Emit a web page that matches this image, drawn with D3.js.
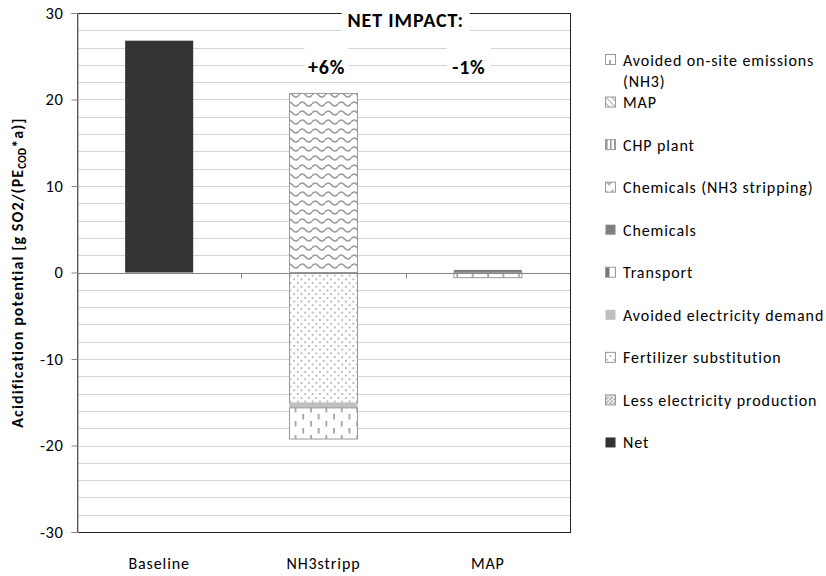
<!DOCTYPE html>
<html>
<head>
<meta charset="utf-8">
<script src="https://cdn.jsdelivr.net/npm/d3@7"></script>
<style>
  body { margin: 0; background: #fff; }
  text { font-family: Carlito, "Open Sans", sans-serif; fill: #000; }
</style>
</head>
<body>
<div id="chart"></div>
<script>
const width = 826;
const height = 576;
const margin = { top: 13, right: 256, bottom: 44, left: 77 };

// data
const categories = ["Baseline", "NH3stripp", "MAP"];
// series in stacking order (legend shows them reversed)
const seriesNames = [
    "Net",
    "Less electricity production",
    "Fertilizer substitution",
    "Avoided electricity demand",
    "Transport",
    "Chemicals",
    "Chemicals (NH3 stripping)",
    "CHP plant",
    "MAP",
    "Avoided on-site emissions (NH3)"
];
const netValues          = [26.8, 0, 0];
const lessElecValues     = [0, 0, 0];
const fertilizerValues   = [0, -15.1, 0];
const avoidedElecValues  = [0, -0.55, 0];
const transportValues    = [0, 0, 0];
const chemicalsValues    = [0, 0, 0.3];
const chemNH3Values      = [0, 20.7, 0];
const chpValues          = [0, 0, 0];
const mapValues          = [0, 0, 0];
const avoidedOnsiteValues = [0, -3.6, -0.6];
const yTicks = [-30, -20, -10, 0, 10, 20, 30];
const netImpactLabels = ["", "+6%", "-1%"];

const seriesValues = [netValues, lessElecValues, fertilizerValues, avoidedElecValues,
    transportValues, chemicalsValues, chemNH3Values, chpValues, mapValues, avoidedOnsiteValues];

const rows = categories.map((c, i) => {
    const r = { category: c };
    seriesNames.forEach((s, j) => r[s] = seriesValues[j][i]);
    return r;
});

const svg = d3.select("#chart")
    .append("svg")
    .attr("width", width)
    .attr("height", height);

svg.append("rect").attr("width", width).attr("height", height).attr("fill", "#fff");

// patterns
const defs = svg.append("defs");
const pat = (id, w, h) => defs.append("pattern")
    .attr("id", id)
    .attr("patternUnits", "userSpaceOnUse")
    .attr("width", w)
    .attr("height", h);

let p = pat("p-wave", 13, 9);
p.append("rect").attr("width", 13).attr("height", 9).attr("fill", "#fff");
p.append("path").attr("d", "M0,5 Q3.25,1 6.5,5 T13,5").attr("fill", "none")
    .attr("stroke", "#9a9a9a").attr("stroke-width", 1.5);

p = pat("p-dots", 7.4, 7.4);
p.append("rect").attr("width", 7.4).attr("height", 7.4).attr("fill", "#fff");
p.append("circle").attr("cx", 1.8).attr("cy", 1.8).attr("r", 0.9).attr("fill", "#a0a0a0");
p.append("circle").attr("cx", 5.5).attr("cy", 5.5).attr("r", 0.9).attr("fill", "#a0a0a0");

p = pat("p-dash", 15.4, 14);
p.append("rect").attr("width", 15.4).attr("height", 14).attr("fill", "#fff");
p.append("line").attr("x1", 3).attr("x2", 3).attr("y1", 1).attr("y2", 6.5)
    .attr("stroke", "#999").attr("stroke-width", 1.6);
p.append("line").attr("x1", 10.7).attr("x2", 10.7).attr("y1", 8).attr("y2", 13.5)
    .attr("stroke", "#999").attr("stroke-width", 1.6);

p = pat("p-hatch", 4, 4);
p.append("rect").attr("width", 4).attr("height", 4).attr("fill", "#fff");
p.append("path").attr("d", "M-1,5 L5,-1").attr("stroke", "#aaa").attr("stroke-width", 1.6);

p = pat("p-diag", 6, 6);
p.append("rect").attr("width", 6).attr("height", 6).attr("fill", "#fff");
p.append("path").attr("d", "M0,0 L6,6").attr("stroke", "#888").attr("stroke-width", 1);

p = pat("p-vstripe", 4, 4);
p.append("rect").attr("width", 4).attr("height", 4).attr("fill", "#fff");
p.append("rect").attr("x", 1).attr("width", 1.6).attr("height", 4).attr("fill", "#999");

p = pat("p-transport", 10, 10);
p.append("rect").attr("width", 10).attr("height", 10).attr("fill", "#fff");
p.append("rect").attr("x", 1).attr("width", 3.5).attr("height", 10).attr("fill", "#777");

// legend icons use their own small versions
p = pat("p-onsite-icon", 10, 10);
p.append("rect").attr("width", 10).attr("height", 10).attr("fill", "#fff");
p.append("line").attr("x1", 5).attr("x2", 5).attr("y1", 0).attr("y2", 5)
    .attr("stroke", "#888").attr("stroke-width", 1.4);

p = pat("p-wave-icon", 10, 10);
p.append("rect").attr("width", 10).attr("height", 10).attr("fill", "#fff");
p.append("path").attr("d", "M1.5,4 L4,7 L8.5,2").attr("fill", "none")
    .attr("stroke", "#999").attr("stroke-width", 1.3);

const fills = {
    "Net": "#333333",
    "Less electricity production": "url(#p-hatch)",
    "Fertilizer substitution": "url(#p-dots)",
    "Avoided electricity demand": "#bfbfbf",
    "Transport": "url(#p-transport)",
    "Chemicals": "#808080",
    "Chemicals (NH3 stripping)": "url(#p-wave)",
    "CHP plant": "url(#p-vstripe)",
    "MAP": "url(#p-diag)",
    "Avoided on-site emissions (NH3)": "url(#p-dash)"
};
const iconFills = Object.assign({}, fills, {
    "Chemicals (NH3 stripping)": "url(#p-wave-icon)",
    "Avoided on-site emissions (NH3)": "url(#p-onsite-icon)"
});
const strokes = {
    "Net": "none",
    "Avoided electricity demand": "none",
    "Chemicals": "none"
};

// scales
const x = d3.scaleBand()
    .domain(categories)
    .range([margin.left, width - margin.right])
    .paddingInner(0.586)
    .paddingOuter(0.293);
const step = x.step();
const y = d3.scaleLinear()
    .domain([-30, 30])
    .range([height - margin.bottom, margin.top]);

// gridlines every 2
const grid = d3.range(-28, 30, 2);
svg.append("g")
    .selectAll("line")
    .data(grid)
    .join("line")
    .attr("x1", margin.left)
    .attr("x2", width - margin.right)
    .attr("y1", d => Math.round(y(d)) + 0.5)
    .attr("y2", d => Math.round(y(d)) + 0.5)
    .attr("stroke", "#d4d4d4")
    .attr("stroke-width", 1);

// plot border
svg.append("rect")
    .attr("x", margin.left + 0.5)
    .attr("y", Math.round(y(30)) + 0.5)
    .attr("width", width - margin.right - margin.left)
    .attr("height", Math.round(y(-30)) - Math.round(y(30)))
    .attr("fill", "none")
    .attr("stroke", "#222")
    .attr("stroke-width", 1);

// stacked bars
const stacked = d3.stack()
    .keys(seriesNames)
    .offset(d3.stackOffsetDiverging)(rows);

svg.append("g")
    .selectAll("g")
    .data(stacked)
    .join("g")
    .each(function(layer) {
        d3.select(this).selectAll("rect")
            .data(layer.filter(d => d[1] - d[0] !== 0))
            .join("rect")
            .attr("x", d => x(d.data.category))
            .attr("width", x.bandwidth())
            .attr("y", d => y(d[1]))
            .attr("height", d => y(d[0]) - y(d[1]))
            .attr("fill", fills[layer.key])
            .attr("stroke", strokes[layer.key] || "#999")
            .attr("stroke-width", 1);
    });

// category axis at zero
const zeroY = Math.round(y(0)) + 0.5;
svg.append("line")
    .attr("x1", margin.left).attr("x2", width - margin.right)
    .attr("y1", zeroY).attr("y2", zeroY)
    .attr("stroke", "#868686");
svg.append("g")
    .selectAll("line")
    .data(categories.slice(1))
    .join("line")
    .attr("x1", d => Math.round(x(d) - step * 0.586 / 2) + 0.5)
    .attr("x2", d => Math.round(x(d) - step * 0.586 / 2) + 0.5)
    .attr("y1", zeroY)
    .attr("y2", zeroY + 5)
    .attr("stroke", "#868686");

// y axis
const yAxis = svg.append("g")
    .attr("transform", `translate(${margin.left + 0.5},0)`)
    .call(d3.axisLeft(y).tickValues(yTicks).tickSize(6).tickPadding(8).tickFormat(d => String(d)));
yAxis.select(".domain").attr("stroke", "#868686");
yAxis.selectAll(".tick line").attr("stroke", "#868686");
yAxis.selectAll(".tick text")
    .style("font-size", "16.5px")
    .style("letter-spacing", "0.6px")
    .style("font-family", "Carlito, 'Open Sans', sans-serif")
    .attr("fill", "#000");

// category labels
svg.append("g")
    .selectAll("text")
    .data(categories)
    .join("text")
    .attr("x", d => x(d) + x.bandwidth() / 2)
    .attr("y", 569)
    .attr("text-anchor", "middle")
    .style("font-size", "16px")
    .style("letter-spacing", "0.9px")
    .text(d => d);

// y title
const yTitle = svg.append("text")
    .attr("transform", `translate(23,${(y(30) + y(-30)) / 2}) rotate(-90)`)
    .attr("text-anchor", "middle")
    .style("font-size", "16px")
    .style("letter-spacing", "1.1px")
    .style("font-weight", "bold");
yTitle.append("tspan").text("Acidification potential [g SO2/(PE");
yTitle.append("tspan").attr("dy", 3).style("font-size", "11px").style("letter-spacing", "0.3px").text("COD");
yTitle.append("tspan").attr("dy", -3).text("*a)]");

// net impact annotations
const headX = x("NH3stripp") + x.bandwidth() / 2 + step * 0.5;
svg.append("rect")
    .attr("x", headX - 64).attr("y", 4)
    .attr("width", 128).attr("height", 32)
    .attr("fill", "#fff");
svg.append("text")
    .attr("x", headX)
    .attr("y", 27)
    .attr("text-anchor", "middle")
    .style("font-size", "20px")
    .style("letter-spacing", "0.9px")
    .style("font-weight", "bold")
    .text("NET IMPACT:");

const offsets = [0, 3, -19];
categories.forEach((c, i) => {
    if (!netImpactLabels[i]) return;
    const cx = x(c) + x.bandwidth() / 2 + offsets[i];
    svg.append("rect")
        .attr("x", cx - 22).attr("y", 40)
        .attr("width", 44).attr("height", 38)
        .attr("fill", "#fff");
    svg.append("text")
        .attr("x", cx)
        .attr("y", 74)
        .attr("text-anchor", "middle")
        .style("font-size", "20px")
        .style("letter-spacing", "0.8px")
        .style("font-weight", "bold")
        .text(netImpactLabels[i]);
});

// legend (reverse order, top = last series)
const legendNames = seriesNames.slice().reverse();
const legend = svg.append("g").attr("transform", "translate(605,60)");
const items = legend.selectAll("g")
    .data(legendNames)
    .join("g")
    .attr("transform", (d, i) => `translate(0,${i * 42.55})`);
items.append("rect")
    .attr("x", 0.5)
    .attr("y", -5.5)
    .attr("width", 10)
    .attr("height", 10)
    .attr("fill", d => iconFills[d])
    .attr("stroke", d => strokes[d] ? "none" : "#999");
items.append("text")
    .attr("x", 18)
    .attr("y", 5.5)
    .style("font-size", "16px")
    .style("letter-spacing", "0.9px")
    .each(function(d) {
        const t = d3.select(this);
        if (d === "Avoided on-site emissions (NH3)") {
            t.append("tspan").attr("x", 18).text("Avoided on-site emissions");
            t.append("tspan").attr("x", 18).attr("dy", 21).text("(NH3)");
        } else {
            t.text(d);
        }
    });
</script>
</body>
</html>
